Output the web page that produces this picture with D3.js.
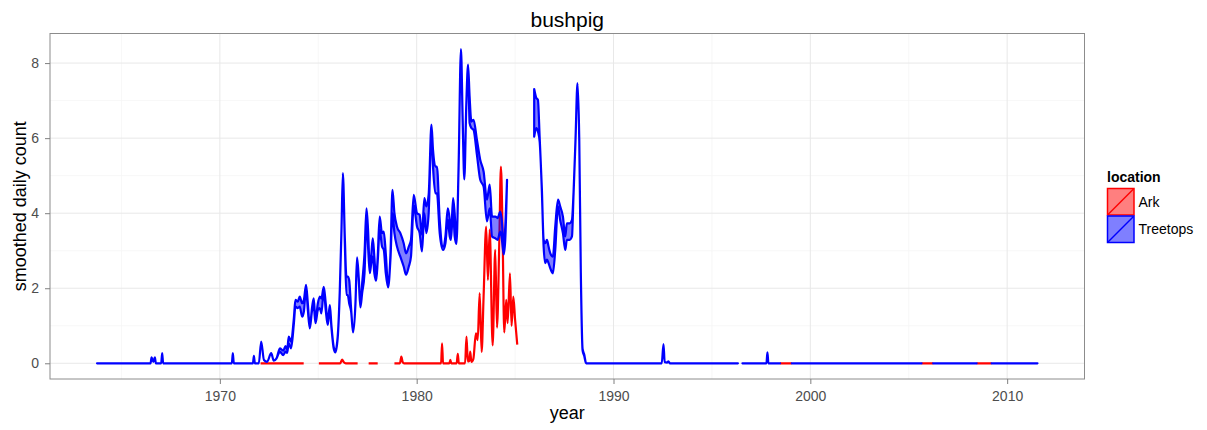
<!DOCTYPE html>
<html>
<head>
<meta charset="utf-8">
<script src="https://cdn.jsdelivr.net/npm/d3@7/dist/d3.min.js"></script>
<style>
  html, body { margin: 0; padding: 0; background: #fff; }
  svg { display: block; font-family: "Liberation Sans", Arial, Helvetica, sans-serif; }
</style>
</head>
<body>
<svg id="chart" width="1207" height="430"></svg>
<script>
// Smoothed daily bushpig counts at two locations.
// null entries mark gaps in the record.

const chartTitle = "bushpig";
const legendTitle = "location";
const locations = ["Ark", "Treetops"];
const locationColors = ["#ff0000", "#0000ff"];

const xTicks = [1970, 1980, 1990, 2000, 2010];
const yTicks = [0, 2, 4, 6, 8];

// Treetops: smoothed band (lower / upper) per time point
const treetopsYear = [
  1963.76, 1966.48, 1966.53, 1966.62, 1966.70, 1966.75, 1967.02, 1967.07, 1967.12,
  1970.61, 1970.66, 1970.71, 1971.68, 1971.73, 1971.78, 1971.98, 1972.10, 1972.24,
  1972.40, 1972.61, 1972.74, 1972.88, 1973.05, 1973.22, 1973.34, 1973.42, 1973.50,
  1973.62, 1973.76, 1973.84, 1973.96, 1974.06, 1974.18, 1974.27, 1974.38, 1974.47,
  1974.57, 1974.69, 1974.77, 1974.86, 1974.98, 1975.08, 1975.16, 1975.28, 1975.38,
  1975.48, 1975.59, 1975.67, 1975.79, 1975.87, 1975.99, 1976.09, 1976.18, 1976.25,
  1976.35, 1976.43, 1976.50, 1976.57, 1976.67, 1976.77, 1976.89, 1976.97, 1977.06,
  1977.14, 1977.23, 1977.35, 1977.45, 1977.53, 1977.62, 1977.70, 1977.77, 1977.85,
  1977.94, 1978.02, 1978.12, 1978.24, 1978.33, 1978.43, 1978.55, 1978.67, 1978.77,
  1978.87, 1979.00, 1979.17, 1979.34, 1979.46, 1979.60, 1979.71, 1979.85, 1980.02,
  1980.15, 1980.27, 1980.39, 1980.49, 1980.61, 1980.75, 1980.83, 1980.95, 1981.03,
  1981.17, 1981.34, 1981.46, 1981.58, 1981.68, 1981.74, 1981.85, 1981.93, 1982.02,
  1982.13, 1982.25, 1982.34, 1982.42, 1982.52, 1982.61, 1982.69, 1982.78, 1982.89,
  1983.06, 1983.23, 1983.40, 1983.57, 1983.71, 1983.83, 1984.00, 1984.11, 1984.25,
  1984.33, 1984.42, 1984.50, 1984.59,
  null,
  1985.97, 1986.08, 1986.16, 1986.25, 1986.36, 1986.45, 1986.53, 1986.62, 1986.70,
  1986.79, 1986.92, 1987.04, 1987.18, 1987.29, 1987.43, 1987.55, 1987.63, 1987.77,
  1987.89, 1987.97, 1988.07, 1988.17, 1988.26, 1988.34, 1988.43, 1988.51, 1988.61,
  1992.45, 1992.54, 1992.60, 1992.72, 1992.79, 1992.86, 1996.32,
  null,
  1996.55, 1997.77, 1997.82, 1997.87, 1998.46,
  null,
  1999.06, 2005.65,
  null,
  2006.24, 2008.45,
  null,
  2009.21, 2011.54
];
const treetopsLow = [
  0, 0, 0.16, 0.04, 0.16, 0, 0, 0.27, 0,
  0, 0.27, 0, 0, 0.20, 0, 0, 0.58, 0.09,
  0.04, 0.27, 0.07, 0.13, 0.31, 0.22, 0.31, 0.28, 0.53,
  0.40, 1.05, 1.51, 1.47, 1.51, 1.24, 1.38, 2.00, 1.42,
  0.93, 1.42, 1.51, 1.07, 1.42, 1.47, 1.33, 1.95, 1.42,
  1.02, 1.47, 0.95, 0.38, 0.29, 0.69, 1.85, 3.54, 5.05,
  3.20, 1.82, 1.82, 1.60, 1.38, 0.82, 1.58, 2.78, 2.18,
  1.49, 1.87, 2.40, 3.90, 3.11, 2.40, 2.70, 2.84, 2.40,
  2.20, 2.70, 3.56, 3.11, 3.02, 2.40, 2.02, 2.80, 4.00,
  3.47, 3.11, 2.84, 2.58, 2.36, 2.58, 2.84, 4.20, 3.64,
  3.47, 2.98, 4.00, 3.47, 4.00, 6.20, 5.24, 4.53, 4.53,
  3.47, 3.02, 3.20, 3.82, 3.38, 3.29, 4.09, 3.38, 3.18,
  5.20, 8.30, 6.35, 4.90, 6.80, 7.90, 6.40, 6.27, 6.22,
  5.56, 4.89, 4.71, 3.78, 4.13, 3.38, 3.33, 3.29, 3.51,
  3.29, 2.90, 3.29, 4.85,
  null,
  6.04, 6.27, 6.18, 5.90, 4.58, 3.11, 2.67, 2.76, 2.67,
  2.53, 2.40, 3.02, 4.18, 3.82, 3.47, 3.02, 3.29, 3.29,
  3.38, 4.50, 5.94, 7.45, 5.94, 2.38, 0.34, 0.20, 0,
  0, 0.51, 0.03, 0.02, 0.05, 0, 0,
  null,
  0, 0, 0.29, 0, 0,
  null,
  0, 0,
  null,
  0, 0,
  null,
  0, 0
];
const treetopsHigh = [
  0, 0, 0.16, 0.04, 0.16, 0, 0, 0.27, 0,
  0, 0.27, 0, 0, 0.20, 0, 0, 0.58, 0.09,
  0.04, 0.27, 0.07, 0.13, 0.40, 0.34, 0.46, 0.35, 0.71,
  0.58, 1.20, 1.69, 1.64, 1.78, 1.60, 1.69, 2.09, 1.60,
  0.98, 1.51, 1.73, 1.15, 1.60, 1.78, 1.73, 2.04, 1.60,
  1.10, 1.55, 1.00, 0.42, 0.33, 0.73, 1.89, 3.58, 5.07,
  3.35, 2.31, 2.31, 2.22, 1.45, 0.86, 1.62, 2.82, 2.26,
  1.53, 2.13, 2.93, 4.13, 3.56, 2.49, 2.93, 3.33, 2.84,
  2.24, 2.84, 3.91, 3.47, 3.51, 2.93, 2.06, 2.93, 4.62,
  4.00, 3.64, 3.47, 3.20, 2.93, 3.11, 3.29, 4.49, 4.00,
  3.96, 3.42, 4.40, 4.18, 4.50, 6.36, 5.69, 5.24, 5.24,
  3.82, 3.11, 3.38, 4.13, 3.82, 3.38, 4.40, 4.00, 3.22,
  5.28, 8.37, 6.45, 4.96, 6.88, 7.96, 7.10, 6.44, 6.49,
  5.96, 5.42, 5.11, 4.36, 4.76, 3.91, 3.91, 3.87, 4.04,
  3.78, 3.10, 3.64, 4.89,
  null,
  7.31, 7.07, 7.02, 6.00, 4.66, 3.29, 3.20, 3.29, 3.11,
  2.93, 2.84, 3.64, 4.36, 4.18, 3.91, 3.38, 3.73, 3.73,
  3.82, 4.56, 5.98, 7.47, 5.98, 2.42, 0.38, 0.24, 0,
  0, 0.51, 0.03, 0.02, 0.05, 0, 0,
  null,
  0, 0, 0.29, 0, 0,
  null,
  0, 0,
  null,
  0, 0,
  null,
  0, 0
];

// Ark: smoothed count per time point
const arkYear = [
  1972.07, 1974.26,
  null,
  1975.03, 1976.12, 1976.21, 1976.30, 1976.40, 1977.00,
  null,
  1977.56, 1978.02,
  null,
  1978.87, 1979.15, 1979.22, 1979.29, 1979.36, 1981.24, 1981.29, 1981.34, 1981.66,
  1981.71, 1981.76, 1982.03, 1982.09, 1982.14, 1982.46, 1982.53, 1982.60, 1982.67,
  1982.72, 1982.78, 1982.88, 1983.01, 1983.10, 1983.20, 1983.30, 1983.40, 1983.53,
  1983.62, 1983.71, 1983.86, 1983.99, 1984.08, 1984.20, 1984.28, 1984.36, 1984.45,
  1984.55, 1984.62, 1984.74, 1984.82, 1984.91, 1985.00, 1985.11,
  null,
  1998.46, 1999.06,
  null,
  2005.65, 2006.24,
  null,
  2008.45, 2009.21
];
const arkCount = [
  0, 0,
  null,
  0, 0, 0.10, 0.03, 0, 0,
  null,
  0, 0,
  null,
  0, 0, 0.18, 0.03, 0, 0, 0.53, 0, 0,
  0.09, 0, 0, 0.25, 0, 0, 0.71, 0.05, 0.06,
  0.31, 0.04, 0.12, 0.80, 0.62, 1.87, 0.30, 1.78, 3.64,
  2.22, 3.56, 0.48, 3.02, 0.95, 3.30, 5.24, 3.64, 0.82,
  1.69, 1.07, 2.40, 1.00, 1.78, 1.16, 0.50,
  null,
  0, 0,
  null,
  0, 0,
  null,
  0, 0
];

// ---- layout ----
const width = 1207, height = 430;
const panel = { left: 50, top: 33.5, right: 1084.5, bottom: 379 };
const font = '"Liberation Sans", Arial, Helvetica, sans-serif';

const svg = d3.select("#chart");
svg.append("rect").attr("width", width).attr("height", height).attr("fill", "#fff");

// Rows for the two series
const treetopsRows = treetopsYear.map((yr, i) => ({ year: yr, low: treetopsLow[i], high: treetopsHigh[i] }));
const arkRows = arkYear.map((yr, i) => ({ year: yr, value: arkCount[i] }));

// Continuous scales with 5% expansion on each side
const allYears = treetopsYear.concat(arkYear).filter(v => v != null);
const xMin = d3.min(allYears), xMax = d3.max(allYears);
const xPad = (xMax - xMin) * 0.05;
const yMaxData = d3.max(treetopsHigh.concat(arkCount).filter(v => v != null));
const yPad = yMaxData * 0.05;

const x = d3.scaleLinear().domain([xMin - xPad, xMax + xPad]).range([panel.left, panel.right]);
const y = d3.scaleLinear().domain([0 - yPad, yMaxData + yPad]).range([panel.bottom, panel.top]);

// ---- grid ----
const grid = svg.append("g");
const xMinor = d3.range(1965, 2015, 10).filter(v => x(v) > panel.left && x(v) < panel.right);
const yMinor = d3.range(1, 9, 2).filter(v => y(v) > panel.top && y(v) < panel.bottom);

grid.selectAll(".xminor").data(xMinor).join("line")
  .attr("x1", d => x(d)).attr("x2", d => x(d))
  .attr("y1", panel.top).attr("y2", panel.bottom)
  .attr("stroke", "#f5f5f5").attr("stroke-width", 0.8);
grid.selectAll(".yminor").data(yMinor).join("line")
  .attr("x1", panel.left).attr("x2", panel.right)
  .attr("y1", d => y(d)).attr("y2", d => y(d))
  .attr("stroke", "#f5f5f5").attr("stroke-width", 0.8);
grid.selectAll(".xmajor").data(xTicks).join("line")
  .attr("x1", d => x(d)).attr("x2", d => x(d))
  .attr("y1", panel.top).attr("y2", panel.bottom)
  .attr("stroke", "#e8e8e8").attr("stroke-width", 1);
grid.selectAll(".ymajor").data(yTicks).join("line")
  .attr("x1", panel.left).attr("x2", panel.right)
  .attr("y1", d => y(d)).attr("y2", d => y(d))
  .attr("stroke", "#e8e8e8").attr("stroke-width", 1);

// ---- series ----
svg.append("clipPath").attr("id", "panel-clip")
  .append("rect").attr("x", panel.left).attr("y", panel.top)
  .attr("width", panel.right - panel.left).attr("height", panel.bottom - panel.top);

const plot = svg.append("g").attr("clip-path", "url(#panel-clip)");

const arkLine = d3.line()
  .defined(d => d.year != null && d.value != null)
  .curve(d3.curveMonotoneX)
  .x(d => x(d.year)).y(d => y(d.value));

plot.append("path")
  .datum(arkRows)
  .attr("d", arkLine)
  .attr("fill", "none")
  .attr("stroke", locationColors[0])
  .attr("stroke-width", 2.2)
  .attr("stroke-linejoin", "round");

const treetopsArea = d3.area()
  .defined(d => d.year != null && d.low != null)
  .curve(d3.curveMonotoneX)
  .x(d => x(d.year)).y0(d => y(d.low)).y1(d => y(d.high));

plot.append("path")
  .datum(treetopsRows)
  .attr("d", treetopsArea)
  .attr("fill", locationColors[1])
  .attr("fill-opacity", 0.5)
  .attr("stroke", locationColors[1])
  .attr("stroke-width", 2.2)
  .attr("stroke-linejoin", "round");

// ---- panel border ----
svg.append("rect")
  .attr("x", panel.left).attr("y", panel.top)
  .attr("width", panel.right - panel.left).attr("height", panel.bottom - panel.top)
  .attr("fill", "none").attr("stroke", "#8c8c8c").attr("stroke-width", 1);

// ---- axes ----
const xAxis = svg.append("g")
  .attr("transform", `translate(0,${panel.bottom})`)
  .call(d3.axisBottom(x).tickValues(xTicks).tickFormat(d3.format("d")).tickSize(5).tickPadding(7));
const yAxis = svg.append("g")
  .attr("transform", `translate(${panel.left},0)`)
  .call(d3.axisLeft(y).tickValues(yTicks).tickFormat(d3.format("d")).tickSize(5).tickPadding(6));

[xAxis, yAxis].forEach(g => {
  g.select(".domain").remove();
  g.selectAll(".tick line").attr("stroke", "#7f7f7f").attr("stroke-width", 1);
  g.selectAll(".tick text").attr("fill", "#4d4d4d").attr("font-size", 14).attr("font-family", font);
});

// ---- titles ----
const cx = (panel.left + panel.right) / 2;
svg.append("text")
  .attr("x", cx).attr("y", 27)
  .attr("text-anchor", "middle")
  .attr("font-size", 21).attr("fill", "#000")
  .text(chartTitle);

svg.append("text")
  .attr("x", cx).attr("y", 419)
  .attr("text-anchor", "middle")
  .attr("font-size", 18).attr("fill", "#000")
  .text("year");

svg.append("text")
  .attr("transform", `translate(26,${(panel.top + panel.bottom) / 2}) rotate(-90)`)
  .attr("text-anchor", "middle")
  .attr("font-size", 18).attr("fill", "#000")
  .text("smoothed daily count");

// ---- legend ----
const legend = svg.append("g").attr("transform", "translate(1107,170)");
legend.append("text")
  .attr("x", 0).attr("y", 12)
  .attr("font-size", 14).attr("font-weight", "bold").attr("fill", "#000")
  .text(legendTitle);

const keySize = 27.5;
const keys = legend.selectAll(".key").data(locations).join("g")
  .attr("transform", (d, i) => `translate(0,${18 + i * keySize})`);

keys.append("rect")
  .attr("x", 0.5).attr("y", 0.5)
  .attr("width", keySize - 1).attr("height", keySize - 1)
  .attr("fill", (d, i) => locationColors[i]).attr("fill-opacity", 0.5)
  .attr("stroke", (d, i) => locationColors[i]).attr("stroke-width", 1.5);
keys.append("line")
  .attr("x1", 1).attr("y1", keySize - 1)
  .attr("x2", keySize - 1).attr("y2", 1)
  .attr("stroke", (d, i) => locationColors[i]).attr("stroke-width", 1.5);
keys.append("text")
  .attr("x", keySize + 4).attr("y", keySize / 2)
  .attr("dy", "0.35em")
  .attr("font-size", 14).attr("fill", "#000")
  .text(d => d);
</script>
</body>
</html>
